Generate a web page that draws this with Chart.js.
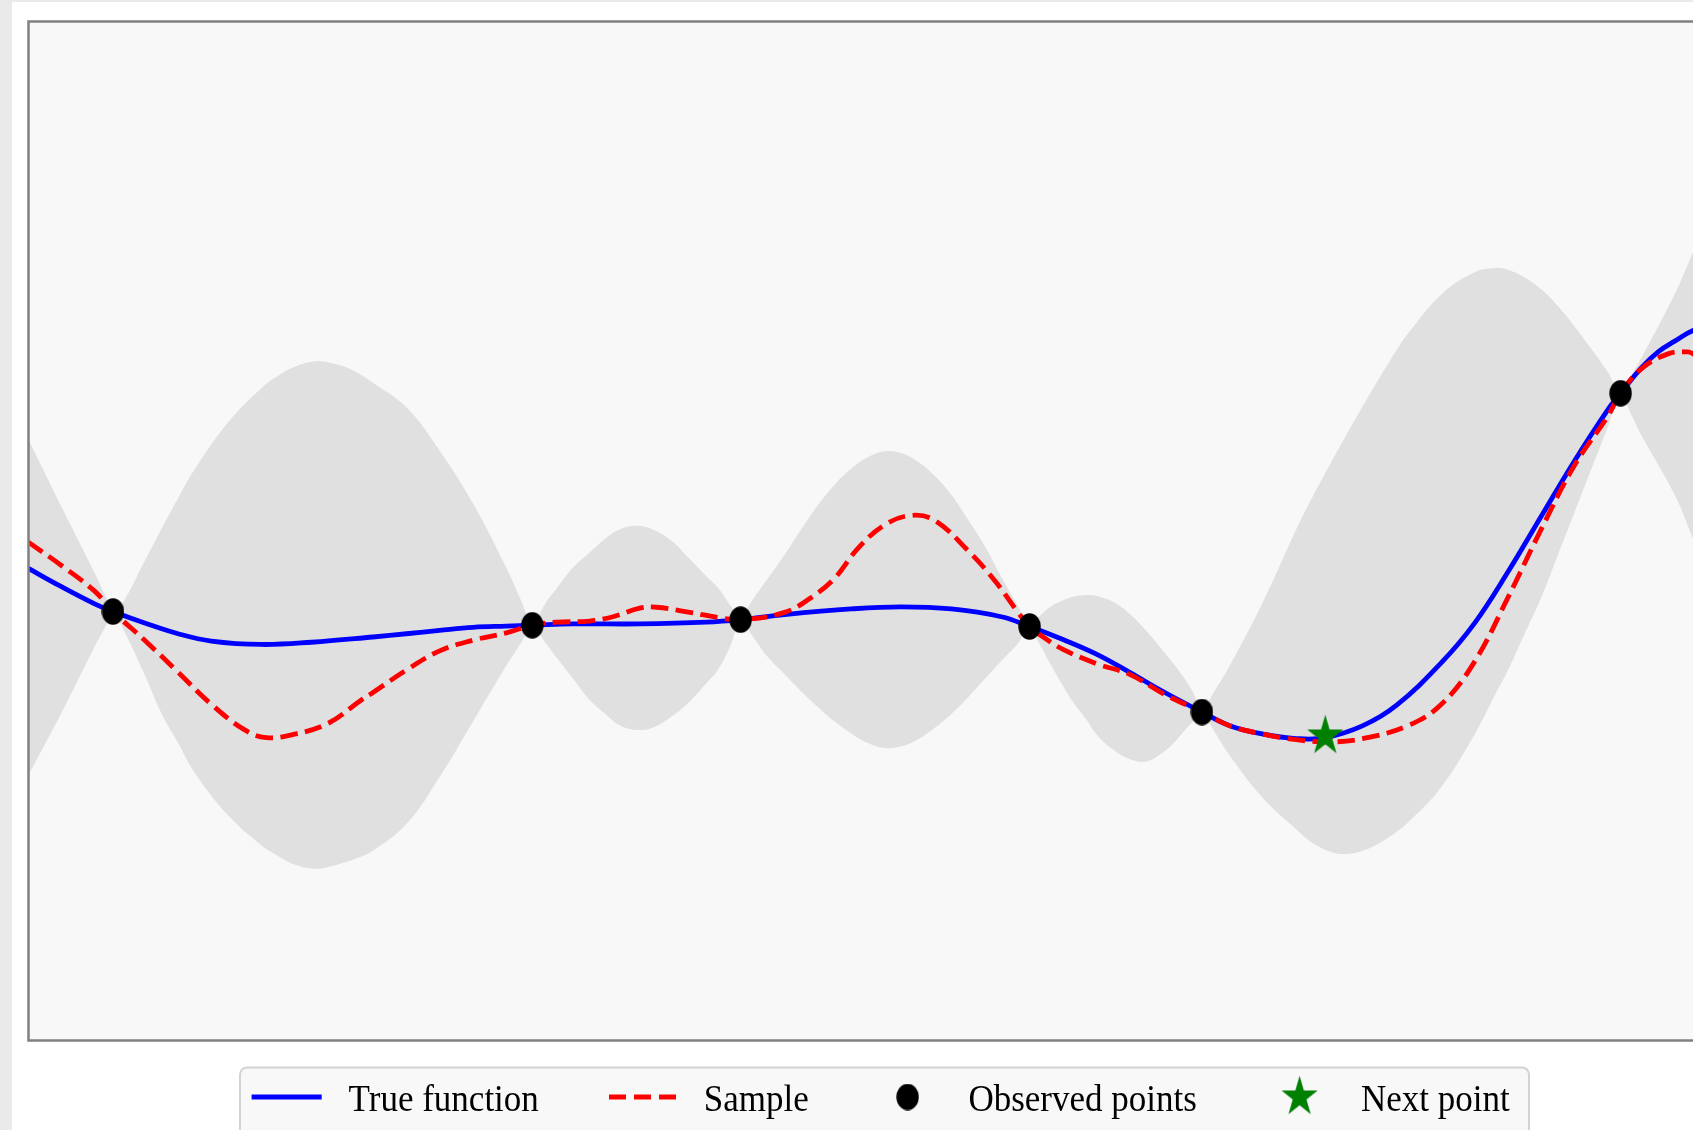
<!DOCTYPE html>
<html>
<head>
<meta charset="utf-8">
<script src="https://cdn.jsdelivr.net/npm/chart.js@4.4.1/dist/chart.umd.min.js"></script>
<style>
  html, body { margin: 0; padding: 0; width: 1693px; height: 1130px; overflow: hidden; background: #ebeaea; }
  #wrap { position: absolute; left: 12px; top: 2px; width: 1760px; height: 1128px; background: #ffffff; overflow: hidden; }
  canvas { display: block; }
</style>
</head>
<body>
<div id="wrap"><canvas id="gp" width="1760" height="1128"></canvas></div>
<script>
// Gaussian-process step: posterior band, the true function, one posterior sample,
// the observed points and the next point to evaluate.

const trueX = [0, 0.195, 0.389, 0.496, 0.681, 0.876, 1.070, 1.362, 1.654, 2.014, 2.209, 2.403, 2.598, 2.792, 2.944,
  3.182, 3.571, 3.960, 4.160, 4.417, 4.806, 5.098, 5.390, 5.682, 5.847, 6.042, 6.237, 6.431, 6.626, 6.853,
  7.015, 7.210, 7.404, 7.573, 7.793, 7.988, 8.251, 8.445, 8.640, 8.834, 9.029, 9.224, 9.297, 9.418, 9.52,
  9.613, 9.720, 10.0];
const trueY = [-0.222, -0.331, -0.432, -0.477, -0.545, -0.608, -0.651, -0.671, -0.658, -0.627, -0.608, -0.588, -0.570, -0.563, -0.558,
  -0.550, -0.550, -0.540, -0.525, -0.495, -0.462, -0.450, -0.462, -0.508, -0.565, -0.642, -0.728, -0.835, -0.948, -1.069,
  -1.149, -1.199, -1.225, -1.220, -1.149, -1.030, -0.778, -0.545, -0.243, 0.084, 0.411, 0.713, 0.808, 0.958, 1.055,
  1.115, 1.178, 1.28];

const sampleX = [0, 0.195, 0.389, 0.496, 0.681, 0.876, 1.070, 1.265, 1.391, 1.557, 1.751, 1.946, 2.014, 2.209, 2.403,
  2.598, 2.792, 2.944, 3.084, 3.279, 3.415, 3.571, 3.668, 3.863, 4.028, 4.160, 4.417, 4.573, 4.709, 4.845,
  5.001, 5.157, 5.293, 5.487, 5.643, 5.779, 5.847, 5.935, 6.042, 6.237, 6.431, 6.626, 6.853, 7.015, 7.210,
  7.404, 7.599, 7.793, 8.056, 8.251, 8.445, 8.640, 8.834, 9.029, 9.224, 9.297, 9.418, 9.574, 9.691, 9.720, 10.0];
const sampleY = [-0.067, -0.206, -0.357, -0.477, -0.646, -0.834, -1.023, -1.174, -1.219, -1.199, -1.136, -0.998, -0.954, -0.822, -0.709,
  -0.646, -0.603, -0.558, -0.540, -0.533, -0.508, -0.457, -0.452, -0.482, -0.512, -0.525, -0.482, -0.394, -0.281, -0.105,
  0.033, 0.089, 0.059, -0.118, -0.294, -0.482, -0.565, -0.633, -0.700, -0.784, -0.847, -0.960, -1.069, -1.149, -1.199,
  -1.232, -1.245, -1.225, -1.149, -1.023, -0.772, -0.394, 0.008, 0.386, 0.675, 0.808, 0.952, 1.040, 1.052, 1.040, 0.90];

const bandX = [0, 0.195, 0.389, 0.45, 0.496, 0.55, 0.681, 0.778, 0.876, 0.973, 1.168, 1.362, 1.45, 1.557, 1.673,
  1.76, 1.849, 1.93, 2.014, 2.209, 2.403, 2.598, 2.792, 2.88, 2.944, 3.026, 3.084, 3.182, 3.279, 3.376,
  3.45, 3.55, 3.65, 3.765, 3.86, 3.96, 4.028, 4.10, 4.160, 4.223, 4.32, 4.417, 4.514, 4.612, 4.709,
  4.806, 4.90, 5.00, 5.10, 5.195, 5.29, 5.39, 5.49, 5.585, 5.68, 5.779, 5.847, 5.90, 5.974, 6.042,
  6.10, 6.178, 6.237, 6.334, 6.43, 6.528, 6.62, 6.684, 6.75, 6.80, 6.853, 6.92, 7.015, 7.210, 7.404,
  7.50, 7.599, 7.686, 7.793, 7.89, 7.988, 8.056, 8.251, 8.445, 8.572, 8.640, 8.737, 8.834, 8.932, 9.029,
  9.126, 9.224, 9.297, 9.36, 9.418, 9.613, 9.720, 10.0];
const bandUpper = [0.542, 0.141, -0.250, -0.38, -0.47, -0.43, -0.18, 0.008, 0.19, 0.36, 0.637, 0.838, 0.905, 0.964, 0.997,
  0.988, 0.964, 0.925, 0.870, 0.725, 0.47, 0.159, -0.218, -0.415, -0.55, -0.419, -0.344, -0.218, -0.130, -0.042,
  0.005, 0.028, 0.005, -0.067, -0.165, -0.269, -0.337, -0.44, -0.52, -0.419, -0.281, -0.143, 0.007, 0.15, 0.27,
  0.365, 0.43, 0.466, 0.455, 0.405, 0.325, 0.21, 0.06, -0.092, -0.27, -0.445, -0.56, -0.51, -0.445, -0.41,
  -0.39, -0.38, -0.385, -0.42, -0.49, -0.59, -0.70, -0.78, -0.87, -0.95, -1.06, -0.956, -0.797, -0.419, 0.008,
  0.20, 0.386, 0.545, 0.735, 0.90, 1.06, 1.16, 1.39, 1.52, 1.545, 1.535, 1.49, 1.42, 1.32, 1.20,
  1.07, 0.93, 0.815, 0.915, 1.015, 1.392, 1.64, 2.3];
const bandLower = [-1.446, -1.074, -0.684, -0.57, -0.485, -0.57, -0.85, -1.074, -1.25, -1.426, -1.677, -1.853, -1.91, -1.967, -1.992,
  -1.98, -1.954, -1.925, -1.885, -1.728, -1.451, -1.124, -0.797, -0.659, -0.565, -0.669, -0.747, -0.873, -0.998, -1.085,
  -1.145, -1.174, -1.16, -1.09, -1.01, -0.90, -0.82, -0.68, -0.53, -0.612, -0.747, -0.847, -0.948, -1.04, -1.125,
  -1.195, -1.25, -1.28, -1.27, -1.23, -1.165, -1.08, -0.98, -0.875, -0.77, -0.665, -0.57, -0.66, -0.797, -0.916,
  -1.01, -1.113, -1.199, -1.29, -1.345, -1.36, -1.31, -1.255, -1.18, -1.125, -1.075, -1.175, -1.325, -1.577, -1.76,
  -1.84, -1.89, -1.905, -1.885, -1.84, -1.775, -1.72, -1.51, -1.20, -0.953, -0.822, -0.608, -0.394, -0.142, 0.109,
  0.36, 0.612, 0.80, 0.68, 0.562, 0.209, -0.05, -0.75];

const observedX = [0.496, 2.944, 4.160, 5.847, 6.853, 9.297];
const observedY = [-0.477, -0.558, -0.525, -0.565, -1.069, 0.808];

const nextX = [7.573];
const nextY = [-1.21];

const legendLabels = ['True function', 'Sample', 'Observed points', 'Next point'];

const xRange = [0, 10];
const yRange = [-3, 3];

const toPoints = (xs, ys) => xs.map((x, i) => ({ x: x, y: ys[i] }));

// Filled ellipse marker (observed points)
function ellipseMarker(w, h, color) {
  const c = document.createElement('canvas');
  c.width = w; c.height = h;
  const g = c.getContext('2d');
  g.fillStyle = color;
  g.beginPath();
  g.ellipse(w / 2, h / 2, w / 2 - 0.3, h / 2 - 0.3, 0, 0, Math.PI * 2);
  g.fill();
  return c;
}

// Five-pointed star marker (next point)
function starMarker(R, sy, color) {
  const w = Math.ceil(2 * R * Math.sin(0.4 * Math.PI)) + 2;
  const h = Math.ceil(2 * R * sy) + 2;
  const c = document.createElement('canvas');
  c.width = w; c.height = h;
  const g = c.getContext('2d');
  g.translate(w / 2, h / 2);
  g.scale(1, sy);
  g.beginPath();
  for (let i = 0; i < 10; i++) {
    const r = (i % 2) ? R * 0.381966 : R;
    const a = -Math.PI / 2 + i * Math.PI / 5;
    g.lineTo(r * Math.cos(a), r * Math.sin(a));
  }
  g.closePath();
  g.fillStyle = color;
  g.fill();
  return c;
}

const dotImg = ellipseMarker(23, 27, '#000000');
const starImg = starMarker(19, 1.12, '#008000');

const BLUE = '#0000ff';
const RED = '#ff0000';
const BAND = '#e0e0e0';
const LINE_W = 4.8;
const DASH = [17.5, 7.5];

const framePlugin = {
  id: 'frameAndLegend',
  beforeDraw(chart) {
    const { ctx, chartArea: a } = chart;
    ctx.save();
    ctx.fillStyle = '#f8f8f8';
    ctx.fillRect(a.left, a.top, a.right - a.left, a.bottom - a.top);
    ctx.restore();
  },
  afterDatasetsDraw(chart) {
    const { ctx, chartArea: a } = chart;
    ctx.save();
    ctx.strokeStyle = '#808080';
    ctx.lineWidth = 2.5;
    ctx.strokeRect(a.left + 0.5, a.top + 0.5, a.right - a.left, a.bottom - a.top);
    ctx.restore();
  },
  afterDraw(chart) {
    const { ctx, chartArea: a } = chart;
    const top = a.bottom + 27.5;
    const cy = a.bottom + 57;
    const base = cy + 14;
    const L = a.left + 212;
    const R = a.left + 1501;
    ctx.save();
    // legend frame
    ctx.beginPath();
    ctx.roundRect(L, top, R - L, 200, 7);
    ctx.fillStyle = '#f8f8f8';
    ctx.fill();
    ctx.strokeStyle = '#d3d3d3';
    ctx.lineWidth = 2;
    ctx.stroke();

    // handles
    ctx.lineWidth = LINE_W;
    ctx.strokeStyle = BLUE;
    ctx.beginPath(); ctx.moveTo(L + 11.6, cy); ctx.lineTo(L + 81.7, cy); ctx.stroke();
    ctx.strokeStyle = RED;
    ctx.setLineDash([17, 8]);
    ctx.beginPath(); ctx.moveTo(L + 369, cy); ctx.lineTo(L + 436, cy); ctx.stroke();
    ctx.setLineDash([]);
    ctx.drawImage(dotImg, L + 667.6 - dotImg.width / 2, cy - dotImg.height / 2);
    ctx.drawImage(starImg, L + 1059.6 - starImg.width / 2, cy - starImg.height / 2);

    // labels
    ctx.fillStyle = '#000000';
    ctx.font = '35px "Liberation Serif", serif';
    ctx.textBaseline = 'alphabetic';
    const textX = [L + 108.6, L + 463.8, L + 728.4, L + 1121];
    legendLabels.forEach((t, i) => {
      ctx.save();
      ctx.translate(textX[i], base);
      ctx.scale(1, 1.09);
      ctx.fillText(t, 0, 0);
      ctx.restore();
    });
    ctx.restore();
  }
};

new Chart(document.getElementById('gp'), {
  type: 'scatter',
  data: {
    datasets: [
      { label: legendLabels[3], data: toPoints(nextX, nextY), showLine: false,
        pointStyle: starImg, pointRadius: 12, order: 0 },
      { label: legendLabels[2], data: toPoints(observedX, observedY), showLine: false,
        pointStyle: dotImg, pointRadius: 12, order: 1 },
      { label: legendLabels[1], data: toPoints(sampleX, sampleY), showLine: true,
        borderColor: RED, borderWidth: LINE_W, borderDash: DASH, pointRadius: 0,
        tension: 0.4, fill: false, order: 2 },
      { label: legendLabels[0], data: toPoints(trueX, trueY), showLine: true,
        borderColor: BLUE, borderWidth: LINE_W, pointRadius: 0,
        tension: 0.4, fill: false, order: 3 },
      { label: 'lower', data: toPoints(bandX, bandLower), showLine: true,
        borderColor: 'rgba(0,0,0,0)', borderWidth: 0, pointRadius: 0,
        tension: 0.4, backgroundColor: BAND, fill: '+1', order: 4 },
      { label: 'upper', data: toPoints(bandX, bandUpper), showLine: true,
        borderColor: 'rgba(0,0,0,0)', borderWidth: 0, pointRadius: 0,
        tension: 0.4, fill: false, order: 5 }
    ]
  },
  options: {
    responsive: false,
    animation: false,
    events: [],
    layout: { padding: { left: 16, top: 19, right: 31, bottom: 90 } },
    scales: {
      x: { type: 'linear', display: false, min: xRange[0], max: xRange[1] },
      y: { type: 'linear', display: false, min: yRange[0], max: yRange[1] }
    },
    plugins: {
      legend: { display: false },
      tooltip: { enabled: false },
      filler: { propagate: false }
    }
  },
  plugins: [framePlugin]
});
</script>
</body>
</html>
